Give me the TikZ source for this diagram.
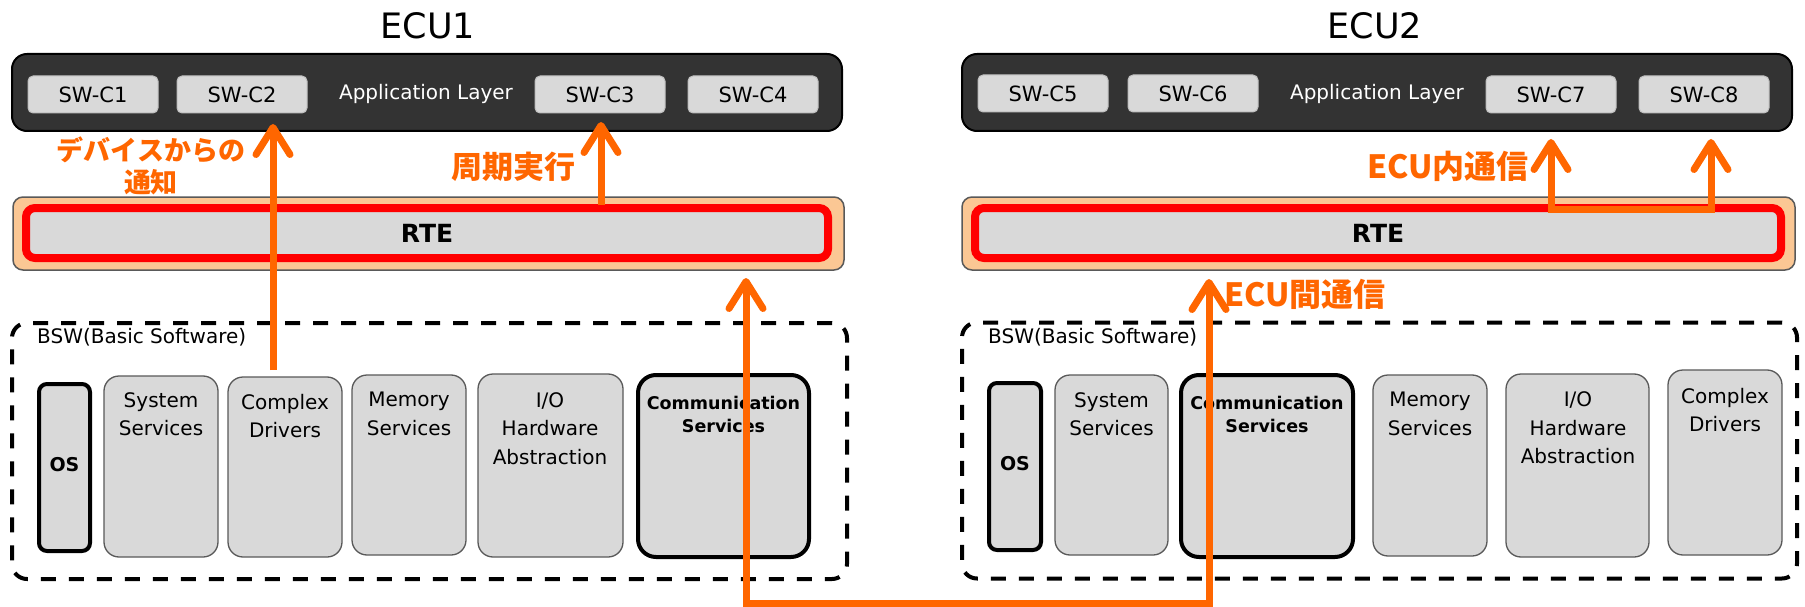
\documentclass[tikz,border=0pt]{standalone}
\usepackage{fontspec}
\setmainfont{DejaVu Sans}
\newfontfamily\jp{Noto Sans CJK JP}
\usetikzlibrary{arrows.meta,calc}
\definecolor{darkbg}{HTML}{333333}
\definecolor{boxg}{HTML}{D9D9D9}
\definecolor{boxline}{HTML}{595959}
\definecolor{swline}{HTML}{BFBFBF}
\definecolor{peach}{HTML}{FBC794}
\definecolor{org}{HTML}{FF6600}
\begin{document}
\begin{tikzpicture}[x=1pt,y=-1pt,
  fs/.style={font=\fontsize{#1}{#1}\selectfont},
  applayer/.style={draw=black, line width=2pt, fill=darkbg, rounded corners=15pt, minimum width=830pt, minimum height=77pt, inner sep=0pt},
  swc/.style={draw=swline, line width=1pt, fill=boxg, rounded corners=5pt, minimum width=130pt, minimum height=37pt, inner sep=0pt, font=\fontsize{21}{21}\selectfont},
  rteout/.style={draw=boxline, line width=1.5pt, fill=peach, rounded corners=10pt, minimum height=73pt, inner sep=0pt},
  rtein/.style={draw=red, line width=8pt, fill=boxg, rounded corners=9pt, minimum height=50pt, inner sep=0pt, font=\fontsize{25}{25}\selectfont\bfseries},
  bsw/.style={draw=black, line width=4pt, dash pattern=on 15pt off 13pt, rounded corners=15pt, minimum width=835pt, minimum height=256pt, inner sep=0pt},
  mod/.style={draw=boxline, line width=1.3pt, fill=boxg, rounded corners=15pt, inner sep=0pt},
  modk/.style={draw=black, line width=4pt, fill=boxg, rounded corners=#1, inner sep=0pt},
  modk/.default=18pt,
  lab/.style={align=center, font=\fontsize{20}{28.5}\selectfont, inner sep=0pt},
  labb/.style={align=center, font=\fontsize{17.5}{23.5}\selectfont\bfseries, inner sep=0pt},
  jpl/.style={text=org, align=center, inner sep=0pt, font=\fontsize{#1}{32}\selectfont\jp\bfseries},
  oline/.style={draw=org, line width=7pt},
  oarr/.style={oline, -{Straight Barb[length=27pt,width=34pt,line cap=round,line join=round]}},
  oarrb/.style={oline, {Straight Barb[length=27pt,width=34pt,line cap=round,line join=round]}-{Straight Barb[length=27pt,width=34pt,line cap=round,line join=round]}}
]
\useasboundingbox (0,0) rectangle (1805,607);
\fill[white] (0,0) rectangle (1805,607);

% ---------- titles ----------
\node[fs=35] (t1) at (428,26) {ECU1};
\node[fs=35] (t2) at (1375,26) {ECU2};

% ---------- application layers ----------
\node[applayer] (app1) at (427,92.5) {};
\node[applayer] (app2) at (1377,92.5) {};
\node[swc] (sw1) at (93,94.5) {SW-C1};
\node[swc] (sw2) at (242,94.5) {SW-C2};
\node[swc] (sw3) at (600,94.5) {SW-C3};
\node[swc] (sw4) at (753,94.5) {SW-C4};
\node[swc] (sw5) at (1043,93.5) {SW-C5};
\node[swc] (sw6) at (1193,93.5) {SW-C6};
\node[swc] (sw7) at (1551,94.5) {SW-C7};
\node[swc] (sw8) at (1704,94.5) {SW-C8};
\node[fs=20, text=white] (al1) at (426,93.5) {Application Layer};
\node[fs=20, text=white] (al2) at (1377,93.5) {Application Layer};

% ---------- RTE ----------
\node[rteout, minimum width=831pt] (rteo1) at (428.5,233.5) {};
\node[rteout, minimum width=833pt] (rteo2) at (1378.5,233.5) {};
\node[rtein, minimum width=802pt] (rte1) at (427,233) {RTE};
\node[rtein, minimum width=806pt] (rte2) at (1378,233) {RTE};

% ---------- BSW ----------
\node[bsw] (bsw1) at (429.5,451) {};
\node[bsw] (bsw2) at (1379.5,450.5) {};
\node[fs=20, anchor=west, inner sep=0pt] (bl1) at (37,337) {BSW(Basic Software)};
\node[fs=20, anchor=west, inner sep=0pt] (bl2) at (988,337) {BSW(Basic Software)};

% ECU1 modules
\node[modk=8pt, minimum width=51pt, minimum height=167pt] (os1) at (64.5,467.5) {};
\node[mod, minimum width=114pt, minimum height=181pt] (sys1) at (161,466.5) {};
\node[mod, minimum width=114pt, minimum height=180pt] (cd1) at (285,467) {};
\node[mod, minimum width=114pt, minimum height=180pt] (mem1) at (409,465) {};
\node[mod, minimum width=145pt, minimum height=183pt] (io1) at (550.5,465.5) {};
\node[modk, minimum width=171pt, minimum height=182pt] (com1) at (723.5,466) {};
\node[labb, font=\fontsize{19}{19}\selectfont\bfseries] (os1l) at (64.5,465) {OS};
\node[lab] (sys1l) at (161,414) {System\\Services};
\node[lab] (cd1l) at (285,416) {Complex\\Drivers};
\node[lab] (mem1l) at (409,414) {Memory\\Services};
\node[lab] (io1l) at (550,428.5) {I/O\\Hardware\\Abstraction};
\node[labb] (com1l) at (723.5,414.5) {Communication\\Services};

% ECU2 modules
\node[modk=8pt, minimum width=52pt, minimum height=167pt] (os2) at (1015,466.5) {};
\node[mod, minimum width=113pt, minimum height=180pt] (sys2) at (1111.5,465) {};
\node[modk, minimum width=172pt, minimum height=182pt] (com2) at (1267,466) {};
\node[mod, minimum width=114pt, minimum height=181pt] (mem2) at (1430,465.5) {};
\node[mod, minimum width=143pt, minimum height=183pt] (io2) at (1577.5,465.5) {};
\node[mod, minimum width=114pt, minimum height=185pt] (cd2) at (1725,462.5) {};
\node[labb, font=\fontsize{19}{19}\selectfont\bfseries] (os2l) at (1015,464) {OS};
\node[lab] (sys2l) at (1111.5,414) {System\\Services};
\node[labb] (com2l) at (1267,414.5) {Communication\\Services};
\node[lab] (mem2l) at (1430,414) {Memory\\Services};
\node[lab] (io2l) at (1578,428) {I/O\\Hardware\\Abstraction};
\node[lab] (cd2l) at (1725,410) {Complex\\Drivers};

% ---------- Japanese labels ----------
\node[jpl=27] (jdev) at (151,166) {デバイスからの\\通知};
\node[jpl=31] (jper) at (513,167) {周期実行};
\node[jpl=32] (jin) at (1448,166) {ECU内通信};
\node[jpl=32] (jbt) at (1305,294) {ECU間通信};

% ---------- arrows ----------
\coordinate (devS) at (273,370);
\coordinate (devT) at (273,124);
\coordinate (perS) at (601,205);
\coordinate (perT) at (601,122);
\coordinate (cxA) at (746,278);
\coordinate (cxB) at (1209,279);
\coordinate (cbot) at (0,603);
\coordinate (inA) at (1551,139);
\coordinate (inB) at (1711,139);
\coordinate (inbot) at (0,209);

\draw[oarr] (devS) -- (devT);
\draw[oarr] (perS) -- (perT);
\draw[oarrb] (cxA) -- (cxA |- cbot) -- (cxB |- cbot) -- (cxB);
\draw[oarrb] (inA) -- (inA |- inbot) -- (inB |- inbot) -- (inB);
\end{tikzpicture}
\end{document}
